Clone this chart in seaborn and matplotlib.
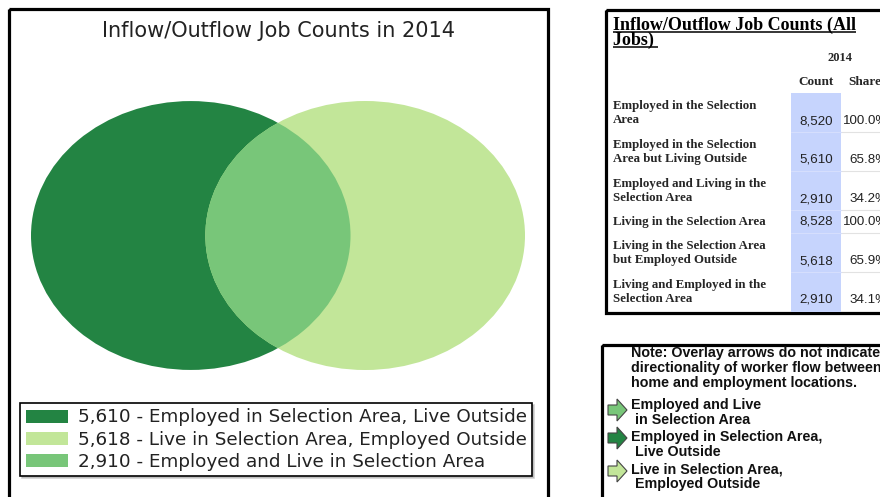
import numpy as np
import matplotlib
matplotlib.use("Agg")
import matplotlib.pyplot as plt
from matplotlib.patches import Ellipse, Rectangle, Polygon, Patch
import seaborn as sns

# ---- data -------------------------------------------------------------
year = 2014
venn_counts = [5610, 5618, 2910]   # work-only, live-only, both
venn_labels = ["Employed in Selection Area, Live Outside",
               "Live in Selection Area, Employed Outside",
               "Employed and Live in Selection Area"]
venn_colors = ["#238443", "#c2e699", "#78c679"]

table_labels = ["Employed in the Selection\nArea",
                "Employed in the Selection\nArea but Living Outside",
                "Employed and Living in the\nSelection Area",
                "Living in the Selection Area",
                "Living in the Selection Area\nbut Employed Outside",
                "Living and Employed in the\nSelection Area"]
table_counts = [8520, 5610, 2910, 8528, 5618, 2910]
table_shares = [100.0, 65.8, 34.2, 100.0, 65.9, 34.1]

note_text = ("Note: Overlay arrows do not indicate\n"
             "directionality of worker flow between\n"
             "home and employment locations.")
arrow_labels = ["Employed and Live\n in Selection Area",
                "Employed in Selection Area,\n Live Outside",
                "Live in Selection Area,\n Employed Outside"]
arrow_colors = ["#78c679", "#238443", "#c2e699"]

# ---- figure -----------------------------------------------------------
sns.set_theme(style="white")
plt.rcParams["font.family"] = ["DejaVu Sans"]
W, H = 880, 497
fig = plt.figure(figsize=(W / 100, H / 100), dpi=100)
fig.patch.set_facecolor("white")

# pixel-space canvas for the frames and text blocks
cv = fig.add_axes([0, 0, 1, 1])
cv.set_xlim(0, W)
cv.set_ylim(H, 0)
cv.axis("off")


def px_axes(x0, y0, x1, y1):
    return fig.add_axes([x0 / W, 1 - y1 / H, (x1 - x0) / W, (y1 - y0) / H])


# ---- left panel: Venn diagram -------------------------------------------
cv.add_patch(Rectangle((8.5, 8.5), 539, 520, fill=False, lw=2.3,
                       edgecolor="black", clip_on=False))
cv.text(278, 31, f"Inflow/Outflow Job Counts in {year}", ha="center",
        va="center", fontsize=15, color="#222222")

work_total = venn_counts[0] + venn_counts[2]
live_total = venn_counts[1] + venn_counts[2]
r1 = np.sqrt(work_total / np.pi)
r2 = np.sqrt(live_total / np.pi)


def lens_area(d, a, b):
    p = (d * d + a * a - b * b) / (2 * d * a)
    q = (d * d + b * b - a * a) / (2 * d * b)
    k = 0.5 * np.sqrt((-d + a + b) * (d + a - b) * (d - a + b) * (d + a + b))
    return a * a * np.arccos(p) + b * b * np.arccos(q) - k


lo, hi = abs(r1 - r2) + 1e-6, r1 + r2 - 1e-6
for _ in range(80):
    mid = 0.5 * (lo + hi)
    if lens_area(mid, r1, r2) > venn_counts[2]:
        lo = mid
    else:
        hi = mid
dist = 0.5 * (lo + hi)

vax = px_axes(31, 101, 525, 370)
vax.set_xlim(-r1, dist + r2)
rmax = max(r1, r2)
vax.set_ylim(-rmax, rmax)
vax.axis("off")
left = Ellipse((0, 0), 2 * r1, 2 * r1, facecolor=venn_colors[0], lw=0)
right = Ellipse((dist, 0), 2 * r2, 2 * r2, facecolor=venn_colors[1], lw=0)
both = Ellipse((0, 0), 2 * r1, 2 * r1, facecolor=venn_colors[2], lw=0)
vax.add_patch(left)
vax.add_patch(right)
vax.add_patch(both)
both.set_clip_path(right)

handles = [Patch(facecolor=c, edgecolor="none") for c in venn_colors]
labels = [f"{n:,} - {t}" for n, t in zip(venn_counts, venn_labels)]
leg = fig.legend(handles, labels, loc="upper left",
                 bbox_to_anchor=(20 / W, 1 - 403 / H),
                 bbox_transform=fig.transFigure, borderaxespad=0,
                 fontsize=13.2, frameon=True, fancybox=False,
                 shadow={"ox": 1.2, "oy": -1.2, "color": "0.65"},
                 handlelength=2.3, handleheight=0.7, handletextpad=0.55,
                 labelspacing=0.22, borderpad=0.3)
leg.get_frame().set_edgecolor("black")
leg.get_frame().set_linewidth(1.2)
for t in leg.get_texts():
    t.set_color("#222222")

# ---- right top: count table ---------------------------------------------
serif = "Liberation Serif"
sans = "Liberation Sans"
cv.add_patch(Rectangle((605.5, 9.5), 300, 303, fill=False, lw=2.3,
                       edgecolor="black", clip_on=False))
title_lines = ["Inflow/Outflow Job Counts (All", "Jobs) "]
title_texts = []
for i, line in enumerate(title_lines):
    title_texts.append(cv.text(613, 30 + 15 * i, line, ha="left",
                               va="baseline", fontsize=13,
                               fontweight="bold", family=serif,
                               color="black"))
cv.text(840, 58, str(year), ha="center", va="center", fontsize=9,
        fontweight="bold", family=serif)
cv.text(816, 82, "Count", ha="center", va="center", fontsize=9.5,
        fontweight="bold", family=serif)
cv.text(848, 82, "Share", ha="left", va="center", fontsize=9.5,
        fontweight="bold", family=serif)

line_h, pad = 16, 7
tops = [93]
for lab in table_labels:
    tops.append(tops[-1] + line_h * (lab.count("\n") + 1) + pad)
cv.add_patch(Rectangle((791, tops[0]), 49.5, tops[-1] - tops[0] + 1,
                       facecolor="#c6d4fd", edgecolor="none"))
for i, (lab, n, s) in enumerate(zip(table_labels, table_counts,
                                    table_shares)):
    y0, y1 = tops[i], tops[i + 1]
    cv.text(613, (y0 + y1) / 2 + 0.5, lab, ha="left", va="center",
            fontsize=9.3, fontweight="bold", family=serif, linespacing=1.3)
    cv.text(833, y1 - 11, f"{n:,}", ha="right", va="center", fontsize=9.6,
            family=sans, color="#222222")
    cv.text(888, y1 - 11, f"{s:.1f}%", ha="right", va="center",
            fontsize=9.6, family=sans, color="#222222")
    if i < len(table_labels) - 1:
        cv.plot([841, W], [y1, y1], color="#e2e2e2", lw=0.8)
        cv.plot([791, 840.5], [y1, y1], color="#d5defd", lw=0.8)

fig.canvas.draw()
rend = fig.canvas.get_renderer()
for t in title_texts:
    bb = t.get_window_extent(renderer=rend)
    yb = t.get_position()[1] + 2
    cv.plot([bb.x0, bb.x1], [yb, yb], color="black", lw=1.1,
            solid_capstyle="butt")

# ---- right bottom: arrow key --------------------------------------------
cv.add_patch(Rectangle((601.5, 344.5), 300, 200, fill=False, lw=2.3,
                       edgecolor="black", clip_on=False))
cv.text(631, 368, note_text, ha="left", va="center", fontsize=10.3,
        fontweight="bold", family=sans, linespacing=1.08, color="#111111")
arrow_y = [410, 438, 471]
label_y = [412.5, 444.5, 476.5]
for cy, ty, lab, col in zip(arrow_y, label_y, arrow_labels, arrow_colors):
    shape = [(608, cy - 5), (617, cy - 5), (617, cy - 11), (627, cy),
             (617, cy + 11), (617, cy + 5), (608, cy + 5)]
    cv.add_patch(Polygon(shape, closed=True, facecolor=col,
                         edgecolor="#444444", lw=0.8))
    cv.text(631, ty, lab, ha="left", va="center", fontsize=10.3,
            fontweight="bold", family=sans, linespacing=1.02,
            color="#111111")

fig.savefig("out.png", dpi=100, facecolor="white")
